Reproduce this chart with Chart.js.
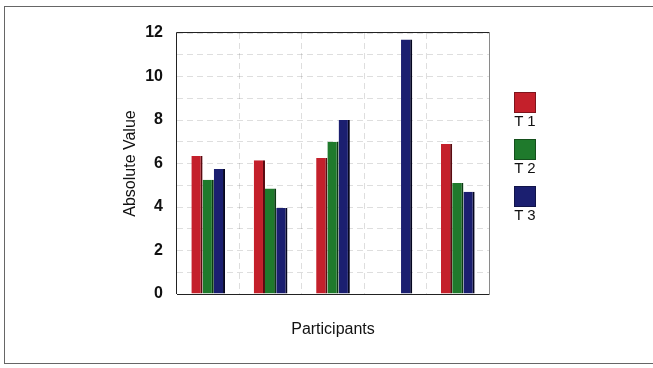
<!DOCTYPE html>
<html>
<head>
<meta charset="utf-8">
<script src="https://cdn.jsdelivr.net/npm/chart.js@4.4.1/dist/chart.umd.min.js"></script>
<style>
  body { margin: 0; background: #fff; font-family: 'Liberation Sans', Arial, sans-serif; }
  #wrap { position: relative; width: 653px; height: 368px; overflow: hidden; }
  #frame { position: absolute; left: 4px; top: 6px; width: 700px; height: 356px; border: 1px solid #666; }
  #chart { position: absolute; left: 0; top: 0; }
  .key { position: absolute; left: 510px; width: 30px; text-align: center; font-size: 15px; line-height: 14px; color: #111; }
  .key span { display: block; width: 22px; height: 21px; margin: 0 auto 1px; box-sizing: border-box; border: 1px solid rgba(0,0,0,0.35); }
</style>
</head>
<body>
<div id="wrap">
  <div id="frame"></div>
  <canvas id="chart" width="653" height="368"></canvas>
  <div id="legend"></div>
</div>
<script>
// five participants, three measurements each
const participants = ['1', '2', '3', '4', '5']
const t1 = [6.35, 6.15, 6.25, 0, 6.9]
const t2 = [5.25, 4.85, 7.0, 0, 5.1]
const t3 = [5.75, 3.95, 8.0, 11.7, 4.7]
const seriesNames = ['T 1', 'T 2', 'T 3']
const yMin = 0, yMax = 12, yStep = 1

const colors = ['#c4202b', '#1f7a2c', '#1b1f70']
const edges = ['#5a0a10', '#0a3a12', '#05061f']

// solid frame round the plot area
const plotFrame = {
    id: 'plotFrame',
    afterDraw(chart) {
        const { ctx, chartArea: a } = chart
        ctx.save()
        ctx.lineWidth = 1
        ctx.strokeStyle = '#8a8a8a'
        ctx.beginPath()
        ctx.moveTo(a.right + 0.5, a.top)
        ctx.lineTo(a.right + 0.5, a.bottom)
        ctx.stroke()
        ctx.strokeStyle = '#222'
        ctx.beginPath()
        ctx.moveTo(a.left - 0.5, a.bottom)
        ctx.lineTo(a.left - 0.5, a.top - 0.5)
        ctx.lineTo(a.right + 0.5, a.top - 0.5)
        ctx.moveTo(a.left, a.bottom + 0.5)
        ctx.lineTo(a.right + 0.5, a.bottom + 0.5)
        ctx.stroke()
        ctx.restore()
    }
}

const ctx = document.getElementById('chart').getContext('2d')
const chart = new Chart(ctx, {
    type: 'bar',
    data: {
        labels: participants,
        datasets: [t1, t2, t3].map((d, i) => ({
            label: seriesNames[i],
            data: d,
            backgroundColor: colors[i],
            borderColor: edges[i],
            borderWidth: { left: 0, top: 0, right: 2, bottom: 0 },
            barPercentage: 1,
            categoryPercentage: 0.54
        }))
    },
    options: {
        responsive: false,
        animation: false,
        layout: { padding: { left: 117, top: 33, right: 164, bottom: 0 } },
        plugins: { legend: { display: false }, tooltip: { enabled: false } },
        scales: {
            x: {
                ticks: { display: false },
                grid: { color: 'rgba(0,0,0,0.13)', drawTicks: false },
                border: { display: false, dash: [6, 4] },
                title: {
                    display: true,
                    text: 'Participants',
                    color: '#111',
                    font: { family: "'Liberation Sans', Arial", size: 16 },
                    padding: { top: 0, bottom: 29 }
                },
                afterFit: s => { s.height = 74 }
            },
            y: {
                min: yMin,
                max: yMax,
                ticks: {
                    stepSize: yStep,
                    autoSkip: false,
                    padding: 14,
                    color: '#111',
                    font: { family: "'Liberation Sans', Arial", size: 16, weight: 'bold' },
                    callback: v => (v % 2 === 0 ? v : '')
                },
                grid: { color: 'rgba(0,0,0,0.13)', drawTicks: false },
                border: { display: false, dash: [6, 4] },
                title: {
                    display: true,
                    text: 'Absolute Value',
                    color: '#111',
                    font: { family: "'Liberation Sans', Arial", size: 16 },
                    padding: { top: 4, bottom: 0 }
                },
                afterFit: s => { s.width = 60 }
            }
        }
    },
    plugins: [plotFrame]
})

// legend: coloured squares with the series name underneath
const legendTops = [92, 139, 186]
const legend = document.getElementById('legend')
chart.data.datasets.forEach((ds, i) => {
    const item = document.createElement('div')
    item.className = 'key'
    item.style.top = legendTops[i] + 'px'
    item.innerHTML = `<span style="background:${ds.backgroundColor}"></span>${ds.label}`
    legend.appendChild(item)
})
</script>
</body>
</html>
